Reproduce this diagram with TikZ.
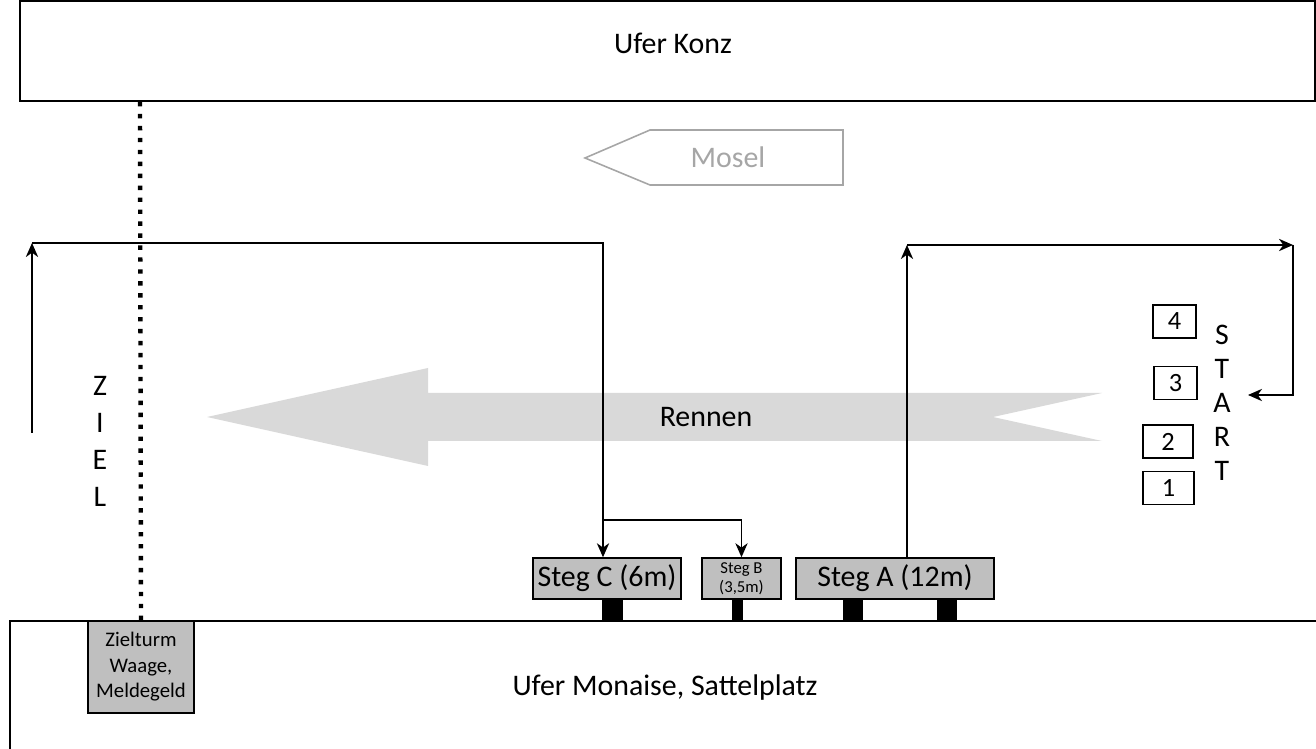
\documentclass[tikz,border=0pt]{standalone}
\usepackage{fontspec}
\setmainfont{Carlito}
\usetikzlibrary{arrows.meta}
\definecolor{stegfill}{HTML}{BFBFBF}
\definecolor{rennenfill}{HTML}{D9D9D9}
\definecolor{moselgray}{HTML}{A6A6A6}
\begin{document}
\begin{tikzpicture}[x=0.02cm,y=-0.02cm,
        line/.style={line width=0.85pt},
        arr/.style={line width=0.85pt,-{Stealth[length=8pt,width=7pt,inset=2.5pt]}},
        big/.style={font=\fontsize{17}{20}\selectfont},
        steg/.style={draw,line width=0.85pt,fill=stegfill,big,inner sep=0pt,minimum height=0.82cm},
        startbox/.style={draw,line width=0.85pt,inner sep=0pt,font=\fontsize{15}{17}\selectfont,minimum height=0.66cm}]
        \clip (0,0) rectangle (1316,749);
        % Ufer
        \draw[line] (20,1) rectangle (1315,101);
        \node[big] (konz) at (673,43) {Ufer Konz};
        \draw[line] (10,760) |- (1330,621);
        \node[big] (monaise) at (665,688) {Ufer Monaise, Sattelplatz};
        % Mosel
        \draw[moselgray,line width=0.9pt] (585,158) -- (650,130) -- (843,130) -- (843,185) -- (650,185) -- cycle;
        \node[big,text=moselgray] (mosel) at (728,157) {Mosel};
        % Rennen
        \fill[rennenfill] (207,417) -- (428,368) -- (428,393) -- (1102,393) -- (993,417)
          -- (1102,441) -- (428,441) -- (428,466) -- cycle;
        \node[big] (rennen) at (706,417) {Rennen};
        % Stege
        \node[steg,minimum width=2.96cm] (stegC) at (607,578.5) {Steg C (6m)};
        \node[steg,minimum width=1.58cm,align=center,font=\fontsize{9.5}{11}\selectfont] (stegB) at (741.5,578.5) {Steg B\\(3,5m)};
        \node[steg,minimum width=3.96cm] (stegA) at (895,578.5) {Steg A (12m)};
        \foreach \a/\b in {602/623, 732/743, 843/863, 937/957}
          \fill (\a,599) rectangle (\b,621);
        % Ziel
        \node[draw,line width=0.85pt,fill=stegfill,align=center,inner sep=0pt,
          minimum width=2.12cm,minimum height=1.84cm,
          font=\fontsize{11.8}{14.5}\selectfont] (zielturm) at (141,667) {Zielturm\\Waage,\\Meldegeld};
        \draw[line width=2.5pt,dash pattern=on 2.5pt off 4.3pt] (140,102) -- (zielturm.north);
        \foreach \l [count=\i] in {Z,I,E,L}
          \node[big] (ziel\i) at (100,349+37*\i) {\l};
        % Start
        \node[startbox,minimum width=0.86cm] (s4) at (1174.5,321.5) {4};
        \node[startbox,minimum width=0.86cm] (s3) at (1175.5,383) {3};
        \node[startbox,minimum width=1cm] (s2) at (1168,441.5) {2};
        \node[startbox,minimum width=1.02cm] (s1) at (1168.5,488) {1};
        \foreach \l [count=\i] in {S,T,A,R,T}
          \node[big] (start\i) at (1222,301+34*\i) {\l};
        % Wege
        \coordinate (zBot) at (32,433);
        \coordinate (zTop) at (32,243);
        \coordinate (cTop) at (603,243);
        \coordinate (cFork) at (603,520);
        \coordinate (aTop) at (907,245);
        \coordinate (rTop) at (1293,245);
        \coordinate (startIn) at (1248,395);
        \draw[arr] (zBot) -- (zTop);
        \draw[arr] (zTop) -- (cTop) -- (cTop |- stegC.north);
        \draw[arr] (cFork) -| (stegB.north);
        \draw[arr] (aTop |- stegA.north) -- (aTop);
        \draw[arr] (aTop) -- (rTop);
        \draw[arr] (rTop) |- (startIn);
\end{tikzpicture}
\end{document}
